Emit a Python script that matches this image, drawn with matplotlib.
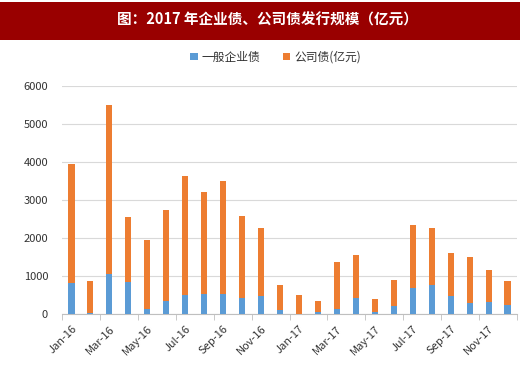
import matplotlib
matplotlib.use("Agg")
import matplotlib.pyplot as plt
from matplotlib.patches import Rectangle
import numpy as np

plt.rcParams['font.family'] = ['Noto Sans CJK SC', 'DejaVu Sans']

months = ["Jan-16", "Feb-16", "Mar-16", "Apr-16", "May-16", "Jun-16",
          "Jul-16", "Aug-16", "Sep-16", "Oct-16", "Nov-16", "Dec-16",
          "Jan-17", "Feb-17", "Mar-17", "Apr-17", "May-17", "Jun-17",
          "Jul-17", "Aug-17", "Sep-17", "Oct-17", "Nov-17", "Dec-17"]
enterprise = [810, 30, 1040, 830, 130, 350, 490, 520, 530, 430, 480, 110,
              10, 50, 140, 420, 40, 210, 690, 770, 480, 280, 320, 250]
corporate = [3140, 840, 4470, 1710, 1810, 2390, 3150, 2690, 2980, 2150, 1790, 650,
             500, 300, 1230, 1120, 350, 680, 1650, 1490, 1120, 1230, 830, 610]
title = "图：2017 年企业债、公司债发行规模（亿元）"
legend_labels = ["一般企业债", "公司债(亿元)"]
yticks = [0, 1000, 2000, 3000, 4000, 5000, 6000]

blue = "#5b9bd5"
orange = "#ed7d31"
txt = "#333333"

fig = plt.figure(figsize=(5.2, 3.73), dpi=100)
fig.patches.append(Rectangle((0, 1 - 40/373), 1, 38/373, transform=fig.transFigure,
                             facecolor="#990000", edgecolor="none", zorder=0))
fig.text(0.515, 1 - 20/373, title, color="white", fontsize=10.5, fontweight="bold",
         ha="center", va="center")

ax = fig.add_axes([62/520, 1 - 314/373, 455/520, (314 - 86)/373])
x = np.arange(len(months))
w = 0.32
b1 = ax.bar(x, enterprise, w, color=blue, label=legend_labels[0], zorder=3)
b2 = ax.bar(x, corporate, w, bottom=enterprise, color=orange, label=legend_labels[1], zorder=3)

ax.set_xlim(-0.5, len(months) - 0.5)
ax.set_ylim(0, 6000)
ax.set_yticks(yticks)
ax.set_yticklabels([str(v) for v in yticks], fontsize=8, color=txt, fontweight="medium")
ax.yaxis.grid(True, color="#d9d9d9", linewidth=0.8, zorder=0)
ax.tick_params(axis="y", length=0, pad=10)
for s in ["top", "right", "left"]:
    ax.spines[s].set_visible(False)
ax.spines["bottom"].set_color("#bfbfbf")

ax.set_xticks(x[::2])
ax.set_xticklabels(months[::2], rotation=45, ha="right", rotation_mode="anchor",
                   fontsize=8, color=txt, fontweight="medium")
ax.tick_params(axis="x", length=0, pad=7)
ax.set_xticks(np.arange(-0.5, len(months), 2), minor=True)
ax.tick_params(axis="x", which="minor", length=4, color="#bfbfbf")

fig.legend(handles=[b1, b2], labels=legend_labels, loc="center",
           bbox_to_anchor=(0.53, 1 - 57/373), ncol=2, frameon=False, fontsize=8.5,
           handlelength=0.6, handleheight=0.6, columnspacing=2.0, handletextpad=0.3,
           labelcolor=txt)

fig.savefig("out.png", dpi=100, facecolor="white")
